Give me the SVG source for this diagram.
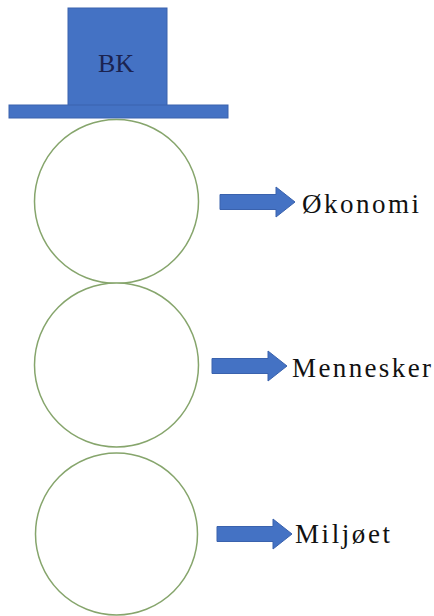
<svg xmlns="http://www.w3.org/2000/svg" width="434" height="616" viewBox="0 0 434 616">
<style>
.blue{fill:#4472C4;stroke:#3a62ad;stroke-width:1}
.ball{fill:#fff;stroke:#86a56c;stroke-width:1.5}
.lbl{font-family:"Liberation Serif","Times New Roman",serif;font-size:27px;fill:#111}
.bk{font-family:"Liberation Serif","Times New Roman",serif;font-size:26px;fill:#1b2350}
</style>
<defs>
<path id="arrow" d="M0,-7.5 H56 V-15 L75,0 L56,15 V7.5 H0 Z"/>
</defs>
<rect width="434" height="616" fill="#fff"/>
<g id="hat">
<rect class="blue" x="68" y="8" width="99" height="99"/>
<rect class="blue" x="9" y="105" width="219" height="13"/>
<text class="bk" x="116" y="72" text-anchor="middle">BK</text>
</g>
<g id="ball1"><circle class="ball" cx="116.5" cy="201.5" r="82"/></g>
<g id="ball2"><circle class="ball" cx="116.5" cy="365" r="82"/></g>
<g id="ball3"><circle class="ball" cx="116.5" cy="534" r="81"/></g>
<g id="connectors">
<use href="#arrow" class="blue" x="220" y="202"/>
<use href="#arrow" class="blue" x="212" y="366"/>
<use href="#arrow" class="blue" x="217" y="534"/>
</g>
<g id="okonomi"><text class="lbl" x="302" y="213" textLength="117" lengthAdjust="spacing">Økonomi</text></g>
<g id="mennesker"><text class="lbl" x="292" y="377" textLength="139" lengthAdjust="spacing">Mennesker</text></g>
<g id="miljoet"><text class="lbl" x="295" y="543" textLength="95" lengthAdjust="spacing">Miljøet</text></g>
</svg>
